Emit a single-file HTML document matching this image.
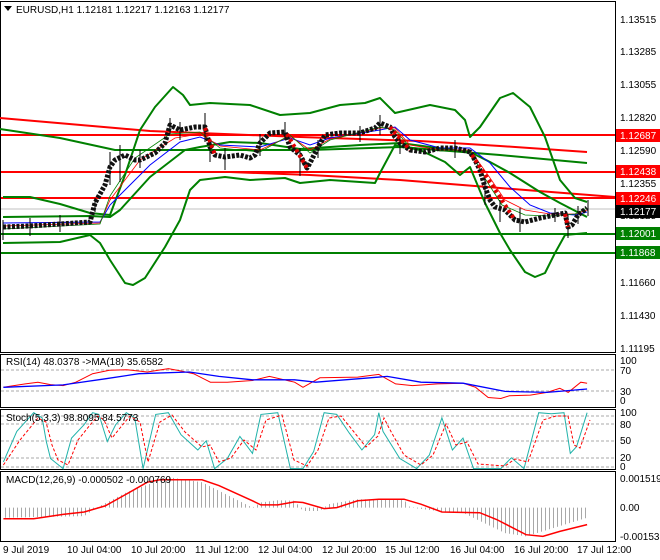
<!DOCTYPE html>
<html><head><meta charset="utf-8"><style>
body{margin:0;background:#fff;}
svg{display:block;font-family:"Liberation Sans",sans-serif;font-size:10px;}
</style></head><body>
<svg width="660" height="560" xmlns="http://www.w3.org/2000/svg">
<defs>
<pattern id="vs" width="4" height="10" patternUnits="userSpaceOnUse"><rect x="1" y="0" width="1" height="10" fill="#a8a8a8"/></pattern>
</defs>
<rect width="660" height="560" fill="#fff"/>
<g fill="none" stroke="#000" stroke-width="1">
<rect x="0.5" y="1.5" width="615" height="351"/>
<rect x="0.5" y="354.5" width="615" height="53"/>
<rect x="0.5" y="409.5" width="615" height="60"/>
<rect x="0.5" y="471.5" width="615" height="70"/>
</g>
<g stroke="#aaa" stroke-dasharray="3,2">
<line x1="1" x2="615" y1="370" y2="370"/><line x1="1" x2="615" y1="391" y2="391"/>
<line x1="1" x2="615" y1="416" y2="416"/><line x1="1" x2="615" y1="424" y2="424"/><line x1="1" x2="615" y1="441" y2="441"/><line x1="1" x2="615" y1="458" y2="458"/><line x1="1" x2="615" y1="467" y2="467"/>
</g>
<line x1="1" x2="615" y1="209" y2="209" stroke="#c0c0c0"/>
<g stroke-width="2">
<line x1="1" x2="615" y1="135" y2="135" stroke="#f00"/>
<line x1="1" x2="615" y1="172" y2="172" stroke="#f00"/>
<line x1="1" x2="615" y1="198" y2="198" stroke="#f00"/>
<line x1="1" x2="615" y1="234" y2="234" stroke="#008000"/>
<line x1="1" x2="615" y1="253" y2="253" stroke="#008000"/>
</g>
<g fill="none" stroke-width="2" stroke-linejoin="round">
<path stroke="#f00" d="M0 118 L150 131 L300 137 L420 141 L500 146 L587 152"/>
<path stroke="#008000" d="M0 129 L60 138 L115 150 L310 150 L400 147 L500 155 L587 163"/>
<path stroke="#f00" d="M230 172 L310 175 L400 180 L500 188 L615 197"/>
<path stroke="#008000" d="M3 197 L30 197 L60 204 L90 213 L110 215 L125 175 L140 130 L155 107 L173 87 L183 95 L190 105 L210 103 L250 105 L280 115 L310 113 L340 105 L365 103 L380 98 L395 113 L430 105 L455 110 L465 120 L470 137 L480 127 L500 98 L513 93 L530 107 L545 137 L560 180 L575 198 L587 202"/>
<path stroke="#008000" d="M3 243 L60 242 L90 235 L100 243 L110 260 L125 283 L133 285 L145 278 L165 247 L180 220 L190 190 L200 180 L225 177 L250 180 L285 178 L300 183 L330 180 L360 182 L375 183 L380 173 L395 145 L420 150 L445 162 L460 175 L470 167 L485 203 L500 233 L510 250 L525 272 L535 277 L545 273 L555 253 L565 235 L587 233"/>
<path stroke="#008000" d="M3 217 L90 216 L110 217 L120 210 L150 177 L185 150 L200 147 L230 142 L260 143 L300 149 L330 147 L360 145 L400 143 L430 147 L470 152 L490 162 L510 173 L540 192 L560 203 L587 217"/>
</g>
<!-- MAs near price -->
<path fill="none" stroke="#00f" d="M3 223 L100 222 L110 205 L150 165 L180 142 L200 137 L220 145 L260 147 L290 138 L310 145 L330 138 L380 130 L395 127 L410 140 L440 148 L470 148 L490 163 L510 187 L530 205 L550 213 L575 215 L587 212"/>
<path fill="none" stroke="#f00" stroke-width="0.8" d="M3 226 L100 223 L110 200 L140 160 L175 138 L200 134 L220 146 L260 150 L290 136 L310 150 L330 139 L380 128 L395 128 L410 145 L440 150 L470 150 L488 175 L505 200 L525 210 L550 214 L575 214 L587 210"/>
<path fill="none" stroke="#008000" stroke-width="0.8" d="M3 229 L100 224 L110 196 L135 158 L170 134 L200 132 L220 148 L260 152 L290 135 L310 153 L330 140 L380 127 L395 130 L410 147 L440 151 L470 151 L486 180 L502 205 L525 215 L550 216 L575 214 L587 208"/>
<!-- candles -->
<path fill="none" stroke="#000" stroke-width="1" d="M3 220 L3 240 M30 218 L30 236 M60 215 L60 232 M95 198 L95 212 M110 152 L110 185 M120 145 L120 182 M140 150 L140 168 M170 118 L170 134 M180 122 L180 140 M205 113 L205 142 M210 140 L210 162 M225 148 L225 170 M260 134 L260 156 M285 122 L285 140 M300 148 L300 176 M318 140 L318 158 M360 126 L360 142 M380 115 L380 135 M400 136 L400 154 M455 140 L455 158 M485 175 L485 205 M500 200 L500 222 M520 208 L520 232 M555 208 L555 222 M568 215 L568 238 M578 206 L578 224 M588 200 L588 216"/>
<path fill="none" stroke="#111" stroke-width="5" stroke-dasharray="3,1.5" stroke-linejoin="round" d="M3 227 L30 226 L60 224 L90 222 L95 203 L105 185 L110 167 L115 160 L125 155 L135 160 L140 160 L155 153 L165 143 L170 125 L180 130 L195 127 L205 127 L210 147 L215 155 L225 157 L240 155 L250 158 L255 155 L260 143 L270 133 L285 132 L290 147 L300 155 L307 168 L310 163 L318 147 L325 135 L340 133 L360 133 L375 128 L380 123 L390 127 L395 137 L400 143 L410 150 L425 152 L440 148 L455 148 L470 152 L475 160 L480 170 L485 187 L490 200 L495 207 L505 210 L515 220 L525 222 L540 218 L555 215 L565 213 L568 227 L572 225 L578 215 L587 208"/>
<path fill="none" stroke="#e00000" stroke-width="4" stroke-dasharray="3,3" d="M205 128 L215 155 M287 134 L307 168 M390 127 L410 150 M472 155 L515 220 M565 214 L568 227"/>
<!-- RSI -->
<path fill="none" stroke="#f00" d="M3.4 387.3 L25.3 383.9 L37.9 382.2 L50.5 384.6 L63.1 385.6 L75.8 382.2 L92.6 373.7 L109.4 370.3 L126.3 369.7 L147.3 372 L168.4 368.6 L181 371 L193.6 373.7 L210.4 382.2 L227.3 382.2 L252.5 380.5 L269.4 376.4 L294.6 382.2 L303 387.3 L319.9 377.8 L357.7 377.1 L378.8 374.4 L395.6 383.9 L412.5 385.6 L437.7 383.9 L463 383.2 L475.6 387.3 L488.2 397.5 L500.8 398.5 L509.3 395.8 L530.3 395.1 L547.1 392.4 L559.8 388.3 L568.2 392.4 L580.8 382.2 L587.1 383.2"/>
<path fill="none" stroke="#00f" stroke-width="1.3" d="M3.4 387.3 L63.1 384.9 L105.2 378.8 L138.9 373.7 L189.4 372 L218.9 376.4 L252.5 379.8 L294.6 379.8 L315.7 382.2 L357.7 378.8 L387.2 376.4 L420.9 382.2 L463 383.2 L505.1 391.4 L547.1 392.4 L587.1 389"/>
<!-- Stoch -->
<path fill="none" stroke="#20b2aa" d="M3.4 461.9 L16.8 431.4 L33.7 412.7 L42.1 417.8 L46.3 441.5 L50.5 458.5 L63.1 468.6 L71.5 438.1 L84.2 424.6 L92.6 412.7 L98.9 414.4 L107.3 441.5 L115.7 424.6 L126.3 412.7 L134.7 417.8 L143.1 468.6 L155.7 414.4 L168.4 412.7 L181 434.7 L197.8 450 L206.2 440.8 L214.6 468.6 L227.3 458.5 L239.9 436.4 L252.5 453.4 L260.9 414.4 L277.8 412.7 L290.4 468.6 L303 468.6 L313.6 451.7 L324.1 412.7 L336.7 414.4 L349.3 433.1 L361.9 450 L374.6 434.7 L378.8 412.7 L383 431.4 L399.8 458.5 L416.7 468.6 L429.3 455.1 L441.9 417.8 L452.4 450 L463 438.1 L473.5 468.6 L500.8 468.6 L511.4 457.8 L524 468.6 L538.7 412.7 L551.3 413.7 L564 412.7 L570.3 453.4 L576.6 446.6 L587.1 412.7"/>
<path fill="none" stroke="#f00" stroke-dasharray="3,2" d="M3.4 465 L20 440 L38 418 L46 422 L52 445 L58 460 L68 465 L78 440 L90 425 L98 416 L104 420 L112 438 L120 428 L130 416 L140 422 L148 462 L160 422 L172 415 L185 432 L202 447 L210 445 L219 462 L231 458 L244 440 L256 450 L266 420 L282 415 L294 460 L307 466 L318 450 L329 418 L341 416 L354 432 L366 447 L378 436 L384 418 L389 428 L404 455 L421 465 L433 455 L446 424 L456 445 L467 442 L478 464 L505 466 L515 459 L528 462 L543 420 L556 416 L568 416 L574 445 L580 448 L590 420"/>
<!-- MACD -->
<path fill="url(#vs)" d="M3.4 507.6 L3.4 517.8 L84.2 516.1 L96.8 507.6 L126.3 492.4 L168.4 477.1 L202 482.2 L252.5 507.6 L260.9 502.5 L277.8 500.2 L294.6 500.8 L303 511 L319.9 511 L328.3 504.2 L357.7 499.2 L404 499.8 L410.4 507.6 L437.7 511 L463 512.7 L505.1 533.1 L526.1 536.4 L587.1 517.8 L587.1 507.6 Z"/>
<path fill="none" stroke="#f00" stroke-width="1.5" d="M3.4 518.8 L33.7 518.8 L63.1 514.4 L84.2 512 L105.2 505.9 L126.3 494.1 L147.3 482.2 L159.9 479.8 L202 479.8 L218.9 485.6 L252.5 500.8 L260.9 504.9 L277.8 504.9 L294.6 501.9 L303 502.5 L324.1 508.6 L336.7 507.6 L357.7 500.8 L378.8 499.2 L404 499.2 L420.9 504.2 L441.9 512 L479.8 512.7 L496.6 519.5 L526.1 534.7 L542.9 536.4 L559.8 531.4 L587.1 524.6"/>
<g font-size="10" fill="#000">
<text x="620" y="23">1.13515</text><text x="620" y="55">1.13285</text><text x="620" y="88">1.13055</text>
<text x="620" y="121">1.12820</text><text x="620" y="154">1.12590</text><text x="620" y="187">1.12355</text>
<text x="620" y="219">1.12125</text><text x="620" y="286">1.11660</text><text x="620" y="319">1.11430</text>
<text x="620" y="352">1.11195</text>
<text x="620" y="364">100</text><text x="620" y="374">70</text><text x="620" y="395">30</text><text x="620" y="404">0</text>
<text x="620" y="416">100</text><text x="620" y="428">80</text><text x="620" y="444">50</text><text x="620" y="461">20</text><text x="620" y="470">0</text>
<text x="620" y="482">0.001519</text><text x="620" y="511">0.00</text><text x="620" y="540">-0.001533</text>
</g>
<g font-size="10">
<rect x="616" y="129" width="44" height="13" fill="#f00"/><text x="620" y="139" fill="#fff">1.12687</text>
<rect x="616" y="165" width="44" height="13" fill="#f00"/><text x="620" y="175" fill="#fff">1.12438</text>
<rect x="616" y="192" width="44" height="13" fill="#f00"/><text x="620" y="202" fill="#fff">1.12246</text>
<rect x="616" y="205" width="44" height="13" fill="#000"/><text x="620" y="215" fill="#fff">1.12177</text>
<rect x="616" y="227" width="44" height="13" fill="#008000"/><text x="620" y="237" fill="#fff">1.12001</text>
<rect x="616" y="246" width="44" height="13" fill="#008000"/><text x="620" y="256" fill="#fff">1.11868</text>
</g>
<g font-size="10" fill="#000">
<path d="M4 6 L12 6 L8 11Z"/>
<text x="16" y="13">EURUSD,H1  1.12181 1.12217 1.12163 1.12177</text>
<text x="6" y="365">RSI(14) 48.0378  -&gt;MA(18) 35.6582</text>
<text x="6" y="421">Stoch(5,3,3) 98.8095 84.5773</text>
<text x="6" y="483">MACD(12,26,9) -0.000502 -0.000769</text>
<text x="3" y="553">9 Jul 2019</text><text x="67" y="553">10 Jul 04:00</text><text x="131" y="553">10 Jul 20:00</text>
<text x="195" y="553">11 Jul 12:00</text><text x="258" y="553">12 Jul 04:00</text><text x="322" y="553">12 Jul 20:00</text>
<text x="385" y="553">15 Jul 12:00</text><text x="450" y="553">16 Jul 04:00</text><text x="514" y="553">16 Jul 20:00</text>
<text x="577" y="553">17 Jul 12:00</text>
</g>
</svg>
</body></html>
